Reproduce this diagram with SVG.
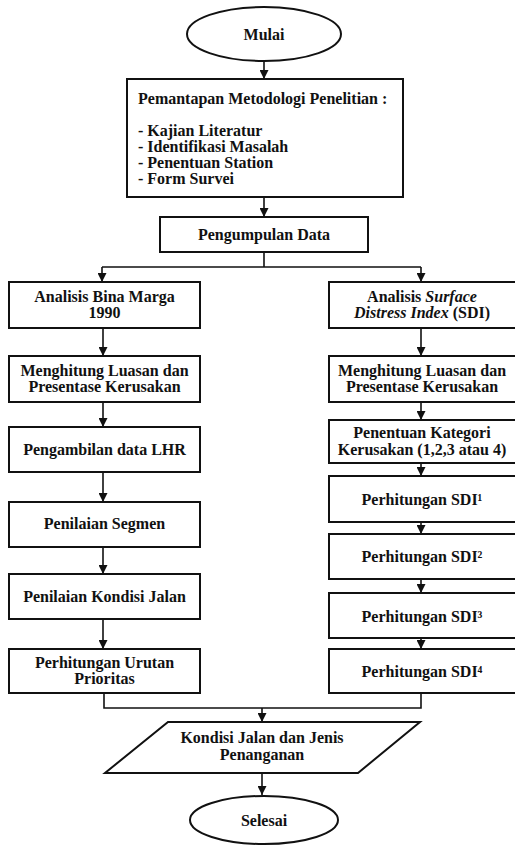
<svg xmlns="http://www.w3.org/2000/svg" width="515" height="845" viewBox="0 0 515 845">
<style>
  .shape{fill:#fff;stroke:#111;stroke-width:2}
  .t{font-family:"Liberation Serif","Times New Roman",serif;font-size:16px;font-weight:bold;fill:#111}
  .c{text-anchor:middle}
  .con{fill:none;stroke:#111;stroke-width:1.6}
</style>
<defs>
  <marker id="arr" markerUnits="userSpaceOnUse" markerWidth="9" markerHeight="9" refX="9" refY="4.5" orient="auto">
    <path d="M0,0 L9,4.5 L0,9 z" fill="#111"/>
  </marker>
</defs>
<rect width="515" height="845" fill="#fff"/>
<g id="connectors">
  <line class="con" x1="264" y1="62" x2="264" y2="79" marker-end="url(#arr)"/>
  <line class="con" x1="264" y1="197" x2="264" y2="217" marker-end="url(#arr)"/>
  <path class="con" d="M264,252 V267 M102,267 H421"/>
  <line class="con" x1="102" y1="267" x2="102" y2="282" marker-end="url(#arr)"/>
  <line class="con" x1="421" y1="267" x2="421" y2="282" marker-end="url(#arr)"/>
  <line class="con" x1="103" y1="328" x2="103" y2="356" marker-end="url(#arr)"/>
  <line class="con" x1="103" y1="402" x2="103" y2="427" marker-end="url(#arr)"/>
  <line class="con" x1="103" y1="472" x2="103" y2="502" marker-end="url(#arr)"/>
  <line class="con" x1="103" y1="547" x2="103" y2="574" marker-end="url(#arr)"/>
  <line class="con" x1="103" y1="619" x2="103" y2="649" marker-end="url(#arr)"/>
  <line class="con" x1="421" y1="328" x2="421" y2="356" marker-end="url(#arr)"/>
  <line class="con" x1="421" y1="402" x2="421" y2="420" marker-end="url(#arr)"/>
  <line class="con" x1="421" y1="463" x2="421" y2="476" marker-end="url(#arr)"/>
  <line class="con" x1="421" y1="522" x2="421" y2="534" marker-end="url(#arr)"/>
  <line class="con" x1="421" y1="579" x2="421" y2="593" marker-end="url(#arr)"/>
  <line class="con" x1="421" y1="638" x2="421" y2="649" marker-end="url(#arr)"/>
  <path class="con" d="M104,693 V708 H421 V693"/>
  <line class="con" x1="262" y1="708" x2="262" y2="722" marker-end="url(#arr)"/>
  <line class="con" x1="262" y1="773" x2="262" y2="795" marker-end="url(#arr)"/>
</g>
<g id="mulai">
  <ellipse class="shape" cx="264" cy="34" rx="77" ry="27"/>
  <text class="t c" x="264" y="40">Mulai</text>
</g>
<g id="metodologi">
  <rect class="shape" x="127" y="79" width="276" height="118"/>
  <text class="t" x="138" y="104">Pemantapan Metodologi Penelitian :</text>
  <text class="t" x="138" y="136">- Kajian Literatur</text>
  <text class="t" x="138" y="152">- Identifikasi Masalah</text>
  <text class="t" x="138" y="168">- Penentuan Station</text>
  <text class="t" x="138" y="184">- Form Survei</text>
</g>
<g id="pengumpulan">
  <rect class="shape" x="160" y="217" width="208" height="35"/>
  <text class="t c" x="264" y="240">Pengumpulan Data</text>
</g>
<g id="bina-marga">
  <rect class="shape" x="9" y="282" width="191" height="46"/>
  <text class="t c" x="104.5" y="302">Analisis Bina Marga</text>
  <text class="t c" x="104.5" y="318">1990</text>
</g>
<g id="luasan-kiri">
  <rect class="shape" x="9" y="356" width="191" height="46"/>
  <text class="t c" x="104.5" y="376">Menghitung Luasan dan</text>
  <text class="t c" x="104.5" y="392">Presentase Kerusakan</text>
</g>
<g id="lhr">
  <rect class="shape" x="9" y="427" width="191" height="45"/>
  <text class="t c" x="104.5" y="455">Pengambilan data LHR</text>
</g>
<g id="segmen">
  <rect class="shape" x="9" y="502" width="191" height="45"/>
  <text class="t c" x="104.5" y="529">Penilaian Segmen</text>
</g>
<g id="kondisi">
  <rect class="shape" x="9" y="574" width="191" height="45"/>
  <text class="t c" x="104.5" y="602">Penilaian Kondisi Jalan</text>
</g>
<g id="prioritas">
  <rect class="shape" x="9" y="649" width="191" height="44"/>
  <text class="t c" x="104.5" y="668">Perhitungan Urutan</text>
  <text class="t c" x="104.5" y="684">Prioritas</text>
</g>
<g id="sdi">
  <rect class="shape" x="329" y="282" width="190" height="46"/>
  <text class="t c" x="422" y="302">Analisis <tspan font-style="italic">Surface</tspan></text>
  <text class="t c" x="422" y="318"><tspan font-style="italic">Distress Index</tspan> (SDI)</text>
</g>
<g id="luasan-kanan">
  <rect class="shape" x="329" y="356" width="190" height="46"/>
  <text class="t c" x="422" y="376">Menghitung Luasan dan</text>
  <text class="t c" x="422" y="392">Presentase Kerusakan</text>
</g>
<g id="kategori">
  <rect class="shape" x="329" y="420" width="190" height="43"/>
  <text class="t c" x="422" y="438">Penentuan Kategori</text>
  <text class="t c" x="422" y="455">Kerusakan (1,2,3 atau 4)</text>
</g>
<g id="sdi1">
  <rect class="shape" x="329" y="476" width="190" height="46"/>
  <text class="t c" x="422" y="505">Perhitungan SDI¹</text>
</g>
<g id="sdi2">
  <rect class="shape" x="329" y="534" width="190" height="45"/>
  <text class="t c" x="422" y="562">Perhitungan SDI²</text>
</g>
<g id="sdi3">
  <rect class="shape" x="329" y="593" width="190" height="45"/>
  <text class="t c" x="422" y="622">Perhitungan SDI³</text>
</g>
<g id="sdi4">
  <rect class="shape" x="329" y="649" width="190" height="44"/>
  <text class="t c" x="422" y="677">Perhitungan SDI⁴</text>
</g>
<g id="hasil">
  <polygon class="shape" points="168,722 420,722 358,773 105,773"/>
  <text class="t c" x="262" y="743">Kondisi Jalan dan Jenis</text>
  <text class="t c" x="262" y="760">Penanganan</text>
</g>
<g id="selesai">
  <ellipse class="shape" cx="264" cy="820" rx="74" ry="24"/>
  <text class="t c" x="264" y="826">Selesai</text>
</g>
</svg>
